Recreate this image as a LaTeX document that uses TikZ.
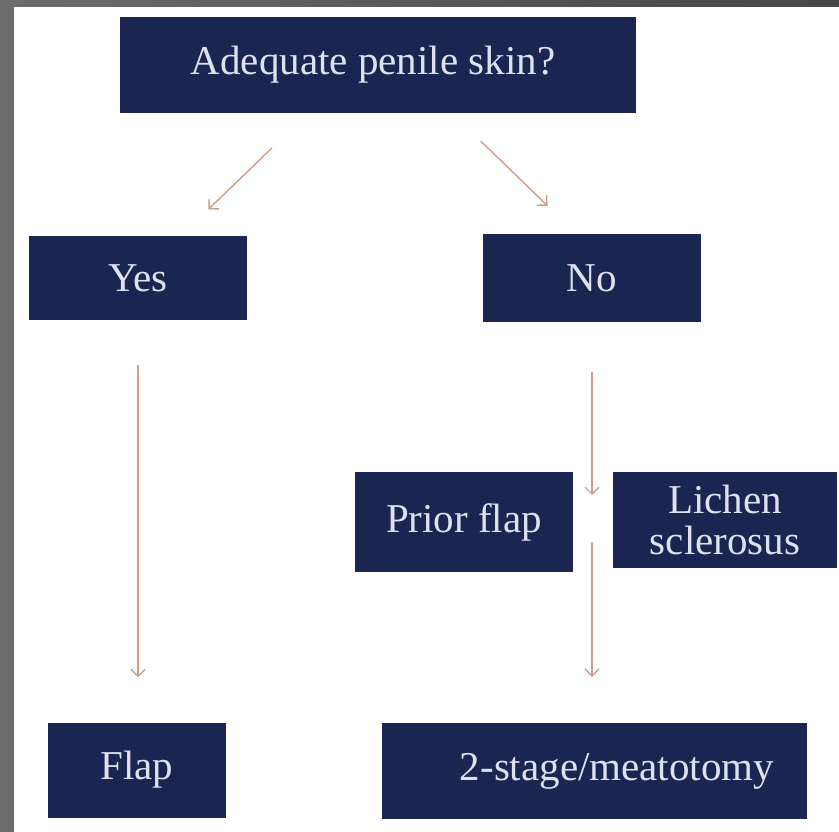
\documentclass[tikz,border=0pt]{standalone}
\usepackage{fontspec}
\setmainfont{Liberation Serif}
\usepackage{tikz}
\usetikzlibrary{positioning, arrows.meta, calc}
\definecolor{boxnavy}{RGB}{27,37,82}
\definecolor{boxtext}{RGB}{222,226,238}
\definecolor{arrowtan}{RGB}{200,160,140}
\tikzset{
	boxtextfont/.style={font=\fontsize{41}{41}\selectfont\color{boxtext}}
}

\begin{document}
\begin{tikzpicture}[x=1pt,y=-1pt]

              \tikzset{
                decisionbox/.style={
                    shape=rectangle,
                    fill=boxnavy,
                    draw=none,
                    inner sep=0pt,
                    align=center,
                    boxtextfont
                  },
                flowarrow/.style={
                    draw=arrowtan,
                    line width=1.4pt,
                    -{Straight Barb[length=7pt,width=14pt]}
                  }
              }

              % frame
              \useasboundingbox (0,0) rectangle (839,832);
              \fill[left color=gray!85!black, right color=gray!55!black] (0,0) rectangle (839,7);
              \fill[gray!85!black] (0,7) rectangle (14,832);
              \fill[white] (14,7) rectangle (839,832);

              \node[decisionbox, minimum width=516pt, minimum height=96pt] (skin) at (378,65) {\hspace*{-10pt}Adequate penile skin?};
              \node[decisionbox, minimum width=218pt, minimum height=84pt] (yes) at (138,278) {Yes};
              \node[decisionbox, minimum width=218pt, minimum height=87pt] (no) at (592,278) {No};
              \node[decisionbox, minimum width=218pt, minimum height=100pt] (prior) at (464,522) {Prior flap};
              \node[decisionbox, minimum width=224pt, minimum height=96pt] (lichen) at (725,520) {Lichen\\sclerosus};
              \node[decisionbox, minimum width=178pt, minimum height=95pt] (flap) at (137,770) {Flap};
              \node[decisionbox, minimum width=425pt, minimum height=96pt] (stage) at (594,771) {\hspace*{46pt}2-stage/meatotomy};

              \coordinate (split) at (no.south |- prior.east);

              \draw[flowarrow, shorten <=50pt, shorten >=38pt] ([xshift=-70pt]skin.south) -- ([xshift=43pt]yes.north);
              \draw[flowarrow, shorten <=40pt, shorten >=41pt] ([xshift=74pt]skin.south) -- ([xshift=-15pt]no.north);
              \draw[flowarrow, shorten <=45pt, shorten >=45pt] (yes.south) -- (yes.south |- flap.north);
              \draw[flowarrow, shorten <=50pt, shorten >=27pt] (no.south) -- (split);
              \draw[flowarrow, shorten <=20pt, shorten >=46pt] (split) -- (split |- stage.north);
            \end{tikzpicture}
\end{document}
